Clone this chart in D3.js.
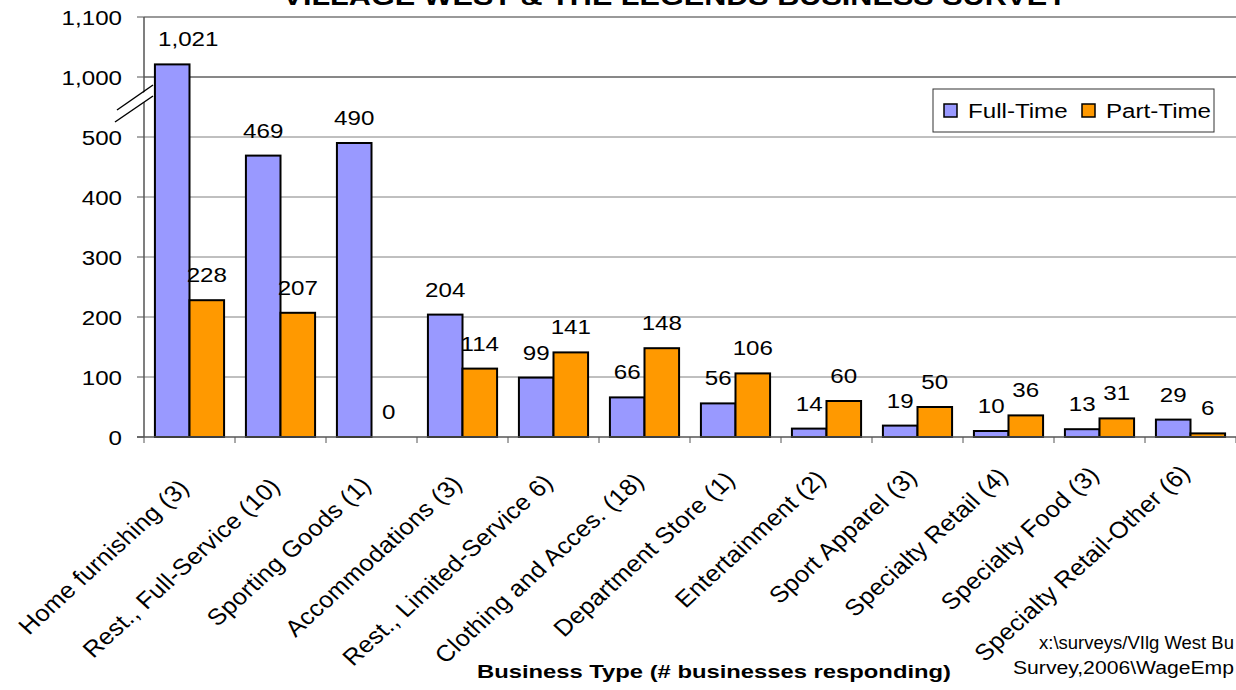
<!DOCTYPE html>
<html>
<head>
<meta charset="utf-8">
<script src="https://cdn.jsdelivr.net/npm/d3@7"></script>
<style>
  body { margin: 0; background: #fff; }
  svg { display: block; font-family: "Liberation Sans", Arial, sans-serif; }
</style>
</head>
<body>
<svg width="1236" height="690"></svg>
<script>
const svg = d3.select('svg');

const width = +svg.attr('width');
const height = +svg.attr('height');

const categories = [
  'Home furnishing (3)', 'Rest., Full-Service (10)', 'Sporting Goods (1)',
  'Accommodations (3)', 'Rest., Limited-Service 6)', 'Clothing and Acces. (18)',
  'Department Store (1)', 'Entertainment (2)', 'Sport Apparel (3)',
  'Specialty Retail (4)', 'Specialty Food (3)', 'Specialty Retail-Other (6)'
];
const fullTime = [1021, 469, 490, 204, 99, 66, 56, 14, 19, 10, 13, 29];
const partTime = [228, 207, 0, 114, 141, 148, 106, 60, 50, 36, 31, 6];
const seriesNames = ['Full-Time', 'Part-Time'];
const yTicks = [0, 100, 200, 300, 400, 500, 1000, 1100];

const colors = ['#9999ff', '#ff9900'];

const plotL = 144, plotR = 1236, plotT = 17, plotB = 437;
const sx = 1.15; // the picture is a bit wider than tall, text looks stretched
const fs = 21;

// broken axis: 0-500 then 1000-1100 on the same step
const yLin = d3.scaleLinear().domain([0, 700]).range([plotB, plotT]);
const y = v => yLin(v > 500 ? v - 400 : v);

const x = d3.scaleBand().domain(categories).range([plotL, plotR]).paddingInner(0.24).paddingOuter(0.12);
const x1 = d3.scaleBand().domain(seriesNames).range([0, x.bandwidth()]);
const step = (plotR - plotL) / categories.length;

const fmt = d3.format(',');

// stretched text helper
const label = (parent, px, py, txt, anchor, extra, s) => {
  const t = parent.append('text')
    .attr('transform', `translate(${px},${py}) scale(${s || sx},1)${extra || ''}`)
    .attr('text-anchor', anchor || 'start')
    .attr('font-size', fs)
    .text(txt);
  return t;
};

// gridlines
svg.append('g').selectAll('line').data(yTicks.filter(d => d > 0))
  .enter().append('line')
  .attr('x1', plotL).attr('x2', plotR)
  .attr('y1', d => y(d)).attr('y2', d => y(d))
  .attr('stroke', d => d === 1000 ? '#111' : (d === 1100 ? '#999' : '#808080'))
  .attr('stroke-width', d => d === 1100 ? 2 : 1);

// y axis line + ticks
svg.append('line').attr('x1', plotL).attr('x2', plotL).attr('y1', plotT).attr('y2', plotB)
  .attr('stroke', '#555').attr('stroke-width', 1.5);
svg.append('g').selectAll('line').data(yTicks)
  .enter().append('line')
  .attr('x1', plotL - 7).attr('x2', plotL)
  .attr('y1', d => y(d)).attr('y2', d => y(d))
  .attr('stroke', '#555');
const yl = svg.append('g');
yTicks.forEach(d => label(yl, 122, y(d) + 7.5, fmt(d), 'end'));

// bars
const groups = svg.append('g').selectAll('g').data(categories)
  .enter().append('g')
  .attr('transform', d => `translate(${x(d)},0)`);

groups.selectAll('rect')
  .data((d, i) => [fullTime[i], partTime[i]].map((v, k) => ({ v, k })))
  .enter().append('rect')
  .attr('x', d => x1(seriesNames[d.k]))
  .attr('y', d => y(d.v))
  .attr('width', x1.bandwidth())
  .attr('height', d => plotB - y(d.v))
  .attr('fill', d => colors[d.k])
  .attr('stroke', '#000').attr('stroke-width', 2);

groups.each(function (c, i) {
  const g = d3.select(this);
  [fullTime[i], partTime[i]].forEach((v, k) => {
    const cx = x1(seriesNames[k]) + x1.bandwidth() / 2 + (v > 1000 ? 16 : 0);
    label(g, cx, y(v) - 18, fmt(v), 'middle');
  });
});

// x axis
svg.append('line').attr('x1', plotL - 7).attr('x2', plotR).attr('y1', plotB).attr('y2', plotB)
  .attr('stroke', '#555').attr('stroke-width', 1.5);
svg.append('g').selectAll('line').data(d3.range(categories.length + 1))
  .enter().append('line')
  .attr('x1', i => plotL + i * step).attr('x2', i => plotL + i * step)
  .attr('y1', plotB).attr('y2', plotB + 6)
  .attr('stroke', '#555');

const xl = svg.append('g');
categories.forEach((c, i) => {
  label(xl, x(c) + x.bandwidth() / 2 + 1, plotB + 52 - i * 1.3, c, 'end', ' rotate(-45)', 1.1)
    .attr('font-size', 23).attr('letter-spacing', 0.3);
});

// axis break marks
const brk = svg.append('g');
brk.append('polygon')
  .attr('points', `117,111 152,87 152,97 117,121`)
  .attr('fill', '#fff');
brk.append('line').attr('x1', 117).attr('y1', 110).attr('x2', 153).attr('y2', 85)
  .attr('stroke', '#000').attr('stroke-width', 1.5);
brk.append('line').attr('x1', 115).attr('y1', 122).attr('x2', 153).attr('y2', 96)
  .attr('stroke', '#000').attr('stroke-width', 1.5);

// legend
const lg = svg.append('g').attr('transform', 'translate(933,89)');
lg.append('rect').attr('width', 281).attr('height', 43)
  .attr('fill', '#fff').attr('stroke', '#333').attr('stroke-width', 1);
const lgX = [11, 149];
seriesNames.forEach((s, k) => {
  lg.append('rect').attr('x', lgX[k]).attr('y', 15).attr('width', 13).attr('height', 13)
    .attr('fill', colors[k]).attr('stroke', '#000').attr('stroke-width', 1.5);
  label(lg, lgX[k] + 24, 29, s);
});

// title (cut off at the top)
svg.append('text')
  .attr('x', 675).attr('y', 5)
  .attr('text-anchor', 'middle')
  .attr('font-size', 26).attr('font-weight', 'bold')
  .attr('textLength', 785).attr('lengthAdjust', 'spacingAndGlyphs')
  .text('VILLAGE WEST & THE LEGENDS BUSINESS SURVEY');

// axis title
svg.append('text')
  .attr('x', 477).attr('y', 678)
  .attr('font-size', 19).attr('font-weight', 'bold')
  .attr('textLength', 474).attr('lengthAdjust', 'spacingAndGlyphs')
  .text('Business Type (# businesses responding)');

// file path note
svg.append('text').attr('x', 1039).attr('y', 649).attr('font-size', 18)
  .attr('textLength', 195).attr('lengthAdjust', 'spacingAndGlyphs')
  .text('x:\\surveys/VIlg West Bu');
svg.append('text').attr('x', 1013).attr('y', 674).attr('font-size', 18)
  .attr('textLength', 221).attr('lengthAdjust', 'spacingAndGlyphs')
  .text('Survey,2006\\WageEmp');
</script>
</body>
</html>
